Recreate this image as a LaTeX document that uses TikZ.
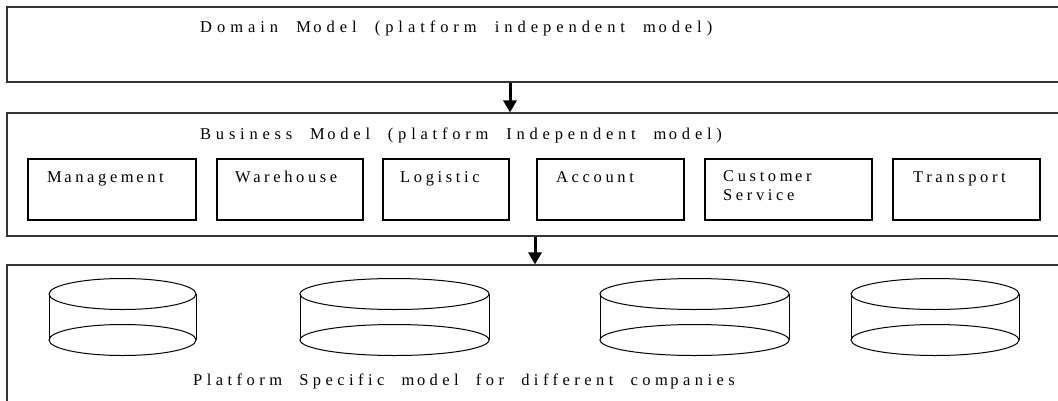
\documentclass[tikz,border=0pt]{standalone}
\usepackage{fontspec}
\setmainfont{Liberation Serif}[LetterSpace=22,WordSpace=2]
\usetikzlibrary{arrows.meta,calc}
\newcommand\gp{\kern2.5pt\relax}
\newcommand\mkcyl[3]{%
  \coordinate (#1) at (#2,317);
  \draw[cyl] (#2,294) ellipse[x radius=#3, y radius=15.5];
  \draw[cyl] (#2,340) ellipse[x radius=#3, y radius=15.5];
  \draw[cyl] ($(#1)+(-#3,-23)$) -- ($(#1)+(-#3,23)$);
  \draw[cyl] ($(#1)+(#3,-23)$) -- ($(#1)+(#3,23)$);
}
\begin{document}
\begin{tikzpicture}[x=1pt,y=-1pt,
  outerbox/.style={draw=black!80, line width=1.1pt, rectangle, inner sep=0pt},
  innerbox/.style={draw=black, line width=1.2pt, rectangle, inner sep=0pt, minimum height=61pt},
  cyl/.style={draw=black, line width=1pt},
  lbl/.style={inner sep=0pt, font=\fontsize{16.5pt}{19pt}\selectfont, anchor=base west},
  title/.style={lbl, font=\fontsize{16.5pt}{19pt}\selectfont\addfontfeatures{LetterSpace=#1}},
  arr/.style={line width=3pt, -{Triangle[width=13pt,length=12pt]}}]
\useasboundingbox (0,0) rectangle (1058,400);
\fill[white] (0,0) rectangle (1058,400);
% outer layers
\node[outerbox, minimum width=1063pt, minimum height=75pt] (domain) at (538.5,44.5) {};
\node[outerbox, minimum width=1063pt, minimum height=123pt] (business) at (538.5,174.5) {};
\node[outerbox, minimum width=1063pt, minimum height=145pt] (platform) at (538.5,337.5) {};
\node[title=30] (domainT) at (200,32) {Domain M\gp odel (platform independent m\gp odel)};
\node[title=29] (businessT) at (200,139) {Business M\gp odel (platform Independent m\gp odel)};
\node[title=27] (platformT) at (193,385) {Platform Specific m\gp odel for different com\gp panies};
% inner boxes
\node[innerbox, minimum width=168pt] (mgmt) at (112,189.5) {};
\node[innerbox, minimum width=146pt] (ware) at (290,189.5) {};
\node[innerbox, minimum width=126pt] (logi) at (446,189.5) {};
\node[innerbox, minimum width=147pt] (acct) at (610.5,189.5) {};
\node[innerbox, minimum width=167pt] (cust) at (788.5,189.5) {};
\node[innerbox, minimum width=147pt] (trans) at (966.5,189.5) {};
\node[lbl] (mgmtT) at (47,182) {M\gp anagem\gp ent};
\node[lbl] (wareT) at (235,182) {W\gp arehouse};
\node[lbl] (logiT) at (400,182) {Logistic};
\node[lbl] (acctT) at (556,182) {Account};
\node[lbl] (custT) at (723,181) {Custom\gp er};
\node[lbl] (servT) at (723,200) {Service};
\node[lbl] (transT) at (913,182) {Transport};
% arrows
\coordinate (a1) at (510,0);
\coordinate (a2) at (535,0);
\draw[arr] (domain.south -| a1) -- (business.north -| a1);
\draw[arr] (business.south -| a2) -- (platform.north -| a2);
% databases
\mkcyl{db1}{122.5}{73.5}
\mkcyl{db2}{394.5}{94.5}
\mkcyl{db3}{694.5}{94.5}
\mkcyl{db4}{935}{84}
\end{tikzpicture}
\end{document}
